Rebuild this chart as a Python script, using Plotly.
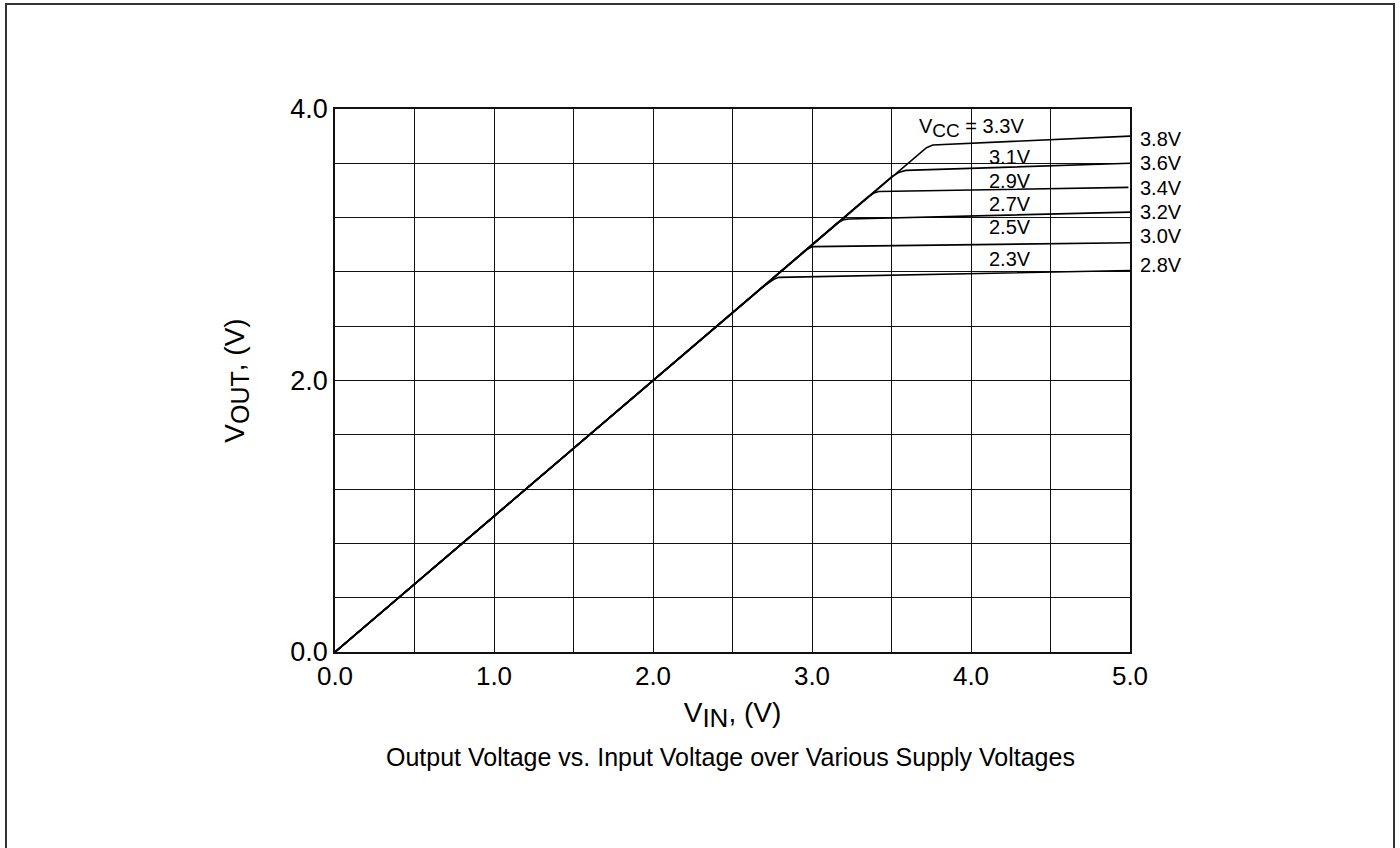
import plotly.graph_objects as go

# ---- data ----
curve_names = ["3.8V", "3.6V", "3.4V", "3.2V", "3.0V", "2.8V"]
vin_38 = [0.0, 3.66, 3.72, 3.76, 5.0]
vout_38 = [0.0, 3.66, 3.715, 3.735, 3.80]
vin_36 = [0.0, 3.50, 3.55, 3.59, 5.0]
vout_36 = [0.0, 3.50, 3.535, 3.548, 3.60]
vin_34 = [0.0, 3.35, 3.39, 3.42, 4.99]
vout_34 = [0.0, 3.35, 3.382, 3.392, 3.423]
vin_32 = [0.0, 3.16, 3.20, 3.23, 5.0]
vout_32 = [0.0, 3.16, 3.185, 3.19, 3.24]
vin_30 = [0.0, 2.96, 2.99, 3.01, 5.0]
vout_30 = [0.0, 2.96, 2.98, 2.986, 3.015]
vin_28 = [0.0, 2.69, 2.76, 2.79, 5.0]
vout_28 = [0.0, 2.69, 2.745, 2.76, 2.81]

vcc_labels = ["V<sub><span style='font-size:19px'>CC</span></sub> = 3.3V",
              "3.1V", "2.9V", "2.7V", "2.5V", "2.3V"]
vcc_label_y = [3.86, 3.646, 3.47, 3.30, 3.131, 2.897]
right_labels = ["3.8V", "3.6V", "3.4V", "3.2V", "3.0V", "2.8V"]
right_label_y = [3.78, 3.60, 3.418, 3.242, 3.066, 2.85]

x_tickvals = [0, 1, 2, 3, 4, 5]
x_ticktext = ["0.0", "1.0", "2.0", "3.0", "4.0", "5.0"]
y_tickvals = [0, 2, 4]
y_ticktext = ["0.0", "2.0", "4.0"]

caption = "Output Voltage vs. Input Voltage over Various Supply Voltages"

FONT = "Liberation Sans, Arial, sans-serif"
Y_MAX = 4.0

fig = go.Figure()
series = [(vin_38, vout_38), (vin_36, vout_36), (vin_34, vout_34),
          (vin_32, vout_32), (vin_30, vout_30), (vin_28, vout_28)]
for name, (xs, ys) in zip(curve_names, series):
    fig.add_trace(go.Scatter(x=xs, y=ys, mode="lines", name=name,
                             line=dict(color="black", width=1.6),
                             showlegend=False, hoverinfo="skip"))

annotations = []
for i, (txt, yv) in enumerate(zip(vcc_labels, vcc_label_y)):
    if i == 0:
        annotations.append(dict(x=3.66, y=yv, xref="x", yref="y", text=txt,
                                showarrow=False, xanchor="left", yanchor="middle",
                                font=dict(family=FONT, size=20, color="black")))
    else:
        annotations.append(dict(x=4.245, y=yv, xref="x", yref="y", text=txt,
                                showarrow=False, xanchor="center", yanchor="middle",
                                font=dict(family=FONT, size=20, color="black")))
for txt, yv in zip(right_labels, right_label_y):
    annotations.append(dict(x=1.0105, y=yv / Y_MAX, xref="paper", yref="paper", text=txt,
                            showarrow=False, xanchor="left", yanchor="middle",
                            font=dict(family=FONT, size=20, color="black")))
annotations.append(dict(x=0.497, y=-0.193, xref="paper", yref="paper", text=caption,
                        showarrow=False, xanchor="center", yanchor="middle",
                        font=dict(family=FONT, size=25, color="black")))

# outer frame
shapes = [dict(type="rect", xref="paper", yref="paper",
               x0=(6 - 335) / 795, x1=(1394 - 335) / 795,
               y0=(652 - 860) / 543, y1=(652 - 4) / 543,
               line=dict(color="#333", width=2), fillcolor="rgba(0,0,0,0)",
               layer="below")]

fig.update_layout(
    width=1400, height=848,
    margin=dict(l=335, r=270, t=109, b=196),
    paper_bgcolor="white", plot_bgcolor="white",
    font=dict(family=FONT, color="black"),
    annotations=annotations,
    shapes=shapes,
    xaxis=dict(range=[0, 5], tickvals=x_tickvals, ticktext=x_ticktext,
               showgrid=True, gridcolor="#111", gridwidth=1,
               minor=dict(dtick=0.5, tick0=0, showgrid=True, gridcolor="#111", gridwidth=1),
               showline=True, linecolor="#111", linewidth=1.5, mirror=True,
               ticks="", zeroline=False,
               tickfont=dict(family=FONT, size=26, color="black"),
               title=dict(text="V<sub><span style='font-size:26px'>IN</span></sub>, (V)",
                          standoff=12,
                          font=dict(family=FONT, size=28, color="black"))),
    yaxis=dict(range=[0, Y_MAX], tickvals=y_tickvals, ticktext=y_ticktext,
               showgrid=True, gridcolor="#111", gridwidth=1,
               minor=dict(dtick=0.4, tick0=0, showgrid=True, gridcolor="#111", gridwidth=1),
               showline=True, linecolor="#111", linewidth=1.5, mirror=True,
               ticks="", zeroline=False,
               tickfont=dict(family=FONT, size=27, color="black"),
               title=dict(text="V<sub><span style='font-size:25px'>OUT</span></sub>, (V)",
                          standoff=38,
                          font=dict(family=FONT, size=28, color="black"))),
)

fig.write_html("out.html", config={"displayModeBar": False},
               post_script="document.body.style.margin='0px';")
